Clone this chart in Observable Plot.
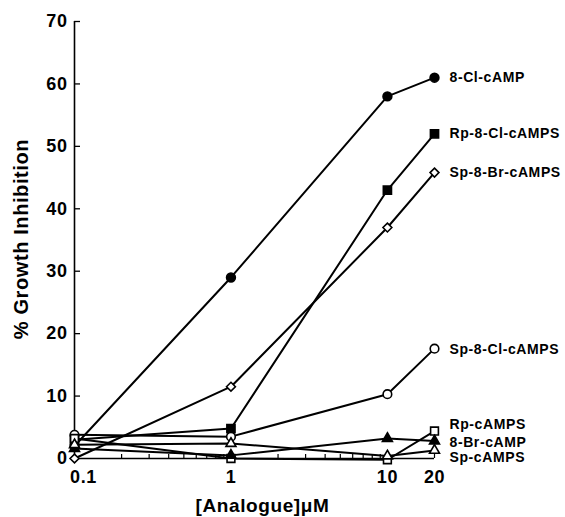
<!DOCTYPE html>
<html><head><meta charset="utf-8">
<script src="https://cdn.jsdelivr.net/npm/d3@7"></script>
<script src="https://cdn.jsdelivr.net/npm/@observablehq/plot@0.6"></script>
<style>
body{margin:0;background:#fff}
svg text{letter-spacing:0.6px}
</style>
</head><body><div id="chart"></div>
<script>
// concentrations (µM)
const concentrations = [0.1, 1, 10, 20];
// % growth inhibition per analogue
const cl8cAMP    = [2.0, 29.0, 58.0, 61.0];
const rp8ClcAMPS = [3.0, 4.8, 43.0, 52.0];
const sp8BrcAMPS = [0.0, 11.5, 37.0, 45.8];
const sp8ClcAMPS = [3.8, 3.5, 10.3, 17.6];
const rpcAMPS    = [3.2, 0.0, -0.2, 4.4];
const br8cAMP    = [1.6, 0.5, 3.2, 2.8];
const spcAMPS    = [2.2, 2.4, 0.4, 1.3];
const seriesNames = ["8-Cl-cAMP","Rp-8-Cl-cAMPS","Sp-8-Br-cAMPS","Sp-8-Cl-cAMPS","Rp-cAMPS","8-Br-cAMP","Sp-cAMPS"];
// axes
const xTickValues = [0.1, 1, 10, 20];
const xTickLabels = ["0.1", "1", "10", "20"];
const xMinorTicks = [0.2,0.3,0.4,0.5,0.6,0.7,0.8,0.9,1,2,3,4,5,6,7,8,9,10,20];
const yTickValues = [0, 10, 20, 30, 40, 50, 60, 70];

const seriesValues = [cl8cAMP, rp8ClcAMPS, sp8BrcAMPS, sp8ClcAMPS, rpcAMPS, br8cAMP, spcAMPS];
// marker styles per series
const styles = [
  {symbol:"circle",   filled:true,  r:4.4, labelDy:0},
  {symbol:"square",   filled:true,  r:4.6, labelDy:0},
  {symbol:"diamond2", filled:false, r:4.0, labelDy:0},
  {symbol:"circle",   filled:false, r:4.3, labelDy:1},
  {symbol:"square",   filled:false, r:4.4, labelDy:-7},
  {symbol:"triangle", filled:true,  r:3.7, labelDy:1},
  {symbol:"triangle", filled:false, r:3.7, labelDy:7}
];

const bold = {fontWeight:"bold"};
const marks = [
  Plot.ruleX([0.1], {y1:0, y2:70, strokeWidth:1.6}),
  Plot.ruleY([0], {x1:0.1, x2:20, strokeWidth:1.6}),
  Plot.ruleY(yTickValues.filter(v => v > 0), {x1:0.1, x2:0.1, insetLeft:0, insetRight:-6, strokeWidth:1.3}),
  Plot.ruleX(xMinorTicks, {y1:0, y2:0, insetTop:-4, strokeWidth:1.2}),
  Plot.axisY(yTickValues, {anchor:"left", tickSize:0, tickPadding:7, fontSize:18, ...bold, label:null, tickFormat:d=>String(d)}),
  Plot.text(xTickValues.map((v,i)=>({x:v, t:xTickLabels[i]})).filter((d,i)=>i===0), {x:"x", y:0, text:"t", dy:19, dx:9, fontSize:18, ...bold}),
  Plot.text(xTickValues.map((v,i)=>({x:v, t:xTickLabels[i]})).filter((d,i)=>i>0), {x:"x", y:0, text:"t", dy:19, fontSize:18, ...bold}),
  Plot.text(["% Growth Inhibition"], {frameAnchor:"left", textAnchor:"middle", rotate:-90, dx:-53, dy:-1, fontSize:20, ...bold}),
  Plot.text(["[Analogue]\u03bcM"], {frameAnchor:"bottom", textAnchor:"middle", dx:8, dy:53, fontSize:19, ...bold})
];

seriesValues.forEach((vals, k) => {
  const rows = concentrations.map((c, i) => ({x:c, y:vals[i]}));
  marks.push(Plot.line(rows, {x:"x", y:"y", stroke:"black", strokeWidth:2}));
});
seriesValues.forEach((vals, k) => {
  const rows = concentrations.map((c, i) => ({x:c, y:vals[i]}));
  const s = styles[k];
  marks.push(Plot.dot(rows, {x:"x", y:"y", symbol:s.symbol, r:s.r, fill:s.filled?"black":"white", stroke:"black", strokeWidth:1.6}));
  marks.push(Plot.text([rows[rows.length-1]], {x:"x", y:"y", text:()=>seriesNames[k], textAnchor:"start", dx:15, dy:s.labelDy, fontSize:14, ...bold}));
});

const chart = Plot.plot({
  width:565, height:517,
  marginLeft:74, marginRight:131, marginTop:21, marginBottom:59,
  x:{type:"log", domain:[0.1,20], axis:null},
  y:{domain:[0,70], axis:null},
  style:{fontFamily:"'Liberation Sans', Arial, sans-serif", color:"black", background:"white"},
  marks
});
document.getElementById("chart").appendChild(chart);
</script>
</body></html>
